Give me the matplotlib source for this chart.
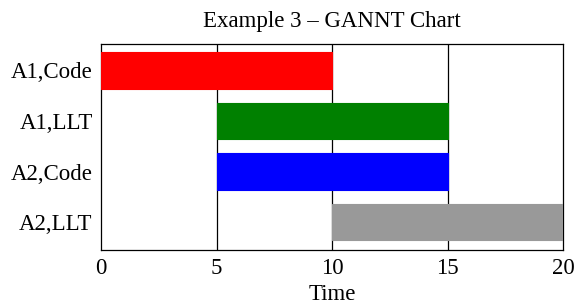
import matplotlib
matplotlib.use('Agg')
import matplotlib.pyplot as plt

tasks = ['A1,Code', 'A1,LLT', 'A2,Code', 'A2,LLT']
starts = [0, 5, 5, 10]
durations = [10, 10, 10, 10]
colors = ['#ff0000', '#008000', '#0000ff', '#999999']
x_ticks = [0, 5, 10, 15, 20]

plt.rcParams['font.family'] = ['Liberation Serif', 'DejaVu Serif']

fig = plt.figure(figsize=(5.75, 3.07), dpi=100)
ax = fig.add_axes([101/575, 1 - 250/307, 462/575, 206/307])

ypos = list(range(len(tasks)))
ax.barh(ypos, durations, left=starts, height=0.72, color=colors,
        edgecolor=colors, linewidth=0.8, zorder=3)
for xv in x_ticks[1:-1]:
    ax.axvline(xv, color='black', linewidth=0.9, zorder=2)

ax.set_xlim(0, 20)
ax.set_ylim(len(tasks) - 0.45, -0.52)
ax.set_yticks(ypos)
ax.set_yticklabels(tasks)
ax.set_xticks(x_ticks)
ax.tick_params(length=0, labelsize=16.5, pad=6)
ax.set_xlabel('Time', fontsize=16.5, labelpad=3)
ax.set_title('Example 3 – GANNT Chart', fontsize=16.5, pad=12)
for s in ax.spines.values():
    s.set_linewidth(0.9)

fig.savefig('out.png', dpi=100)
